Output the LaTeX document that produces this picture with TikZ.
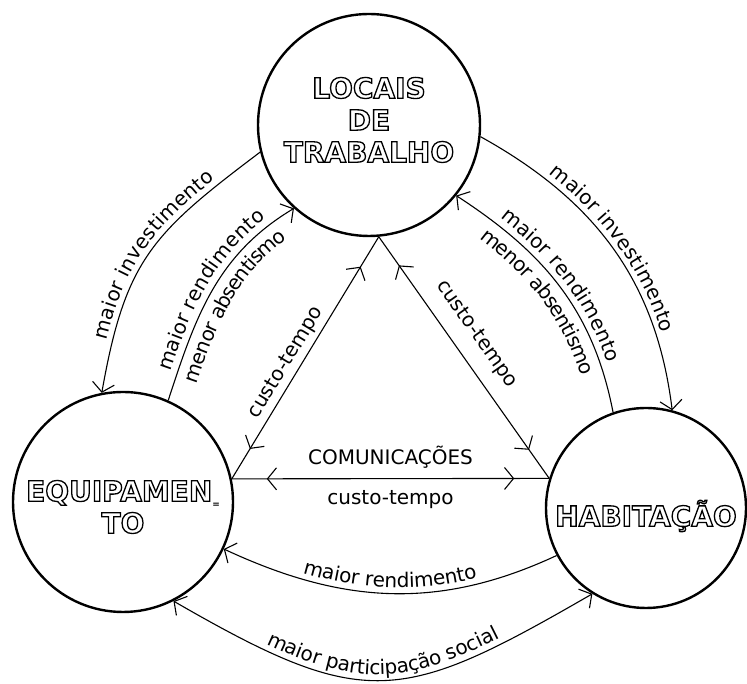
\documentclass[tikz,border=0pt]{standalone}
\usepackage{fontspec}
\setmainfont{DejaVu Sans}
\usetikzlibrary{arrows.meta,decorations.text,decorations.markings}
\newcommand{\lab}{\fontsize{20}{23}\selectfont}
\newcommand{\titulo}[1]{\special{pdf:literal direct 1 Tr 1.3 w}#1\special{pdf:literal direct 0 Tr}}

\begin{document}
\begin{tikzpicture}[x=1pt,y=1pt,>={Straight Barb[length=9pt,width=22pt]},
  lugar/.style={circle,draw,line width=2.4pt,minimum size=#1,inner sep=0pt},
  nome/.style={align=center,inner sep=0pt,font=\bfseries\fontsize{28}{32}\selectfont},
  liga/.style={line width=1.1pt},
  rotulo/.style={font=\lab,inner sep=2pt},
  duplo/.style={postaction={decorate},decoration={markings,mark=at position 35pt with {\arrowreversed{>}},mark=at position -35pt with {\arrow{>}}}},
  texto/.style 2 args={postaction={decorate,decoration={text along path,text align=center,raise=#2,text={|\lab|#1}}}}]
\useasboundingbox (0,0) rectangle (747,684);
\node[lugar=222pt] (trab) at (369,559) {};
\node[lugar=220pt] (equip) at (123,182) {};
\node[lugar=200pt] (hab) at (646,176) {};
\node[nome] (trab-t) at ([yshift=5pt]trab.center) {\titulo{LOCAIS}\\\titulo{DE}\\\titulo{TRABALHO}};
\node[nome] (equip-t) at ([yshift=-5pt]equip.center) {\titulo{EQUIPAMEN}{\fontsize{9}{9}\selectfont\raisebox{-6pt}{=}}\\\titulo{TO}};
\node[nome] (hab-t) at ([yshift=-8pt]hab.center) {\titulo{HABITAÇÃO}};
\draw[liga,<-,texto={maior investimento}{6pt}] (equip.101) to[out=80,in=217,looseness=1.2] (trab.194);
\draw[liga,->,texto={maior rendimento}{7pt},texto={menor absentismo}{-22pt}] (equip.66) to[out=72,in=211] (trab.228);
\draw[liga,->,texto={maior investimento}{6pt}] (trab.354) to[out=331,in=97] (hab.75);
\draw[liga,<-,texto={maior rendimento}{7pt},texto={menor absentismo}{-22pt}] (trab.321) to[out=327,in=101] (hab.109);
\draw[liga,<-,texto={maior rendimento}{6pt}] (equip.335) to[out=-25,in=205] (hab.208);
\draw[liga,<->,texto={maior participação social}{6pt}] (equip.297) to[out=-30,in=210,looseness=1.35] (hab.238);
\draw[liga,duplo] (equip.12) -- node[rotulo,sloped,above=2pt,pos=.45] (ct1) {custo-tempo} (trab.275);
\draw[liga,duplo] (trab.275) -- node[rotulo,sloped,above=12pt,pos=.46] (ct2) {custo-tempo} (hab.163);
\draw[liga,duplo] (equip.12) -- node[rotulo,above=8pt] (com) {COMUNICAÇÕES} node[rotulo,below=9pt] (ct3) {custo-tempo} (hab.163);
\end{tikzpicture}
\end{document}
